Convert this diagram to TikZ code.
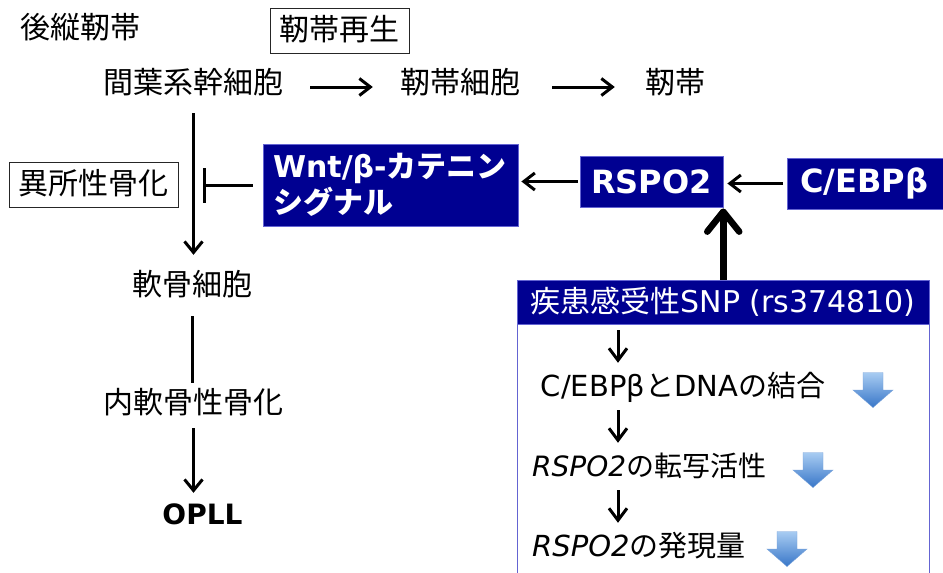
\documentclass[tikz,border=0pt]{standalone}
\usepackage{fontspec}
\setmainfont{DejaVu Sans}
\newfontfamily\jp{Noto Sans CJK JP}
\newcommand{\jtxt}[1]{{\jp #1}}
\usetikzlibrary{arrows.meta}
\definecolor{navy}{RGB}{0,0,145}
\definecolor{bord}{RGB}{100,100,210}
\definecolor{blt}{RGB}{168,204,242}
\definecolor{bdk}{RGB}{56,118,200}
\begin{document}
\begin{tikzpicture}[x=1pt,y=-1pt,
  lbl/.style={inner sep=0pt, text height=25pt, text depth=5pt, font=\fontsize{30}{36}\selectfont},
  steplbl/.style={inner sep=0pt, text height=23.5pt, text depth=4.5pt, font=\fontsize{28}{34}\selectfont},
  framed/.style={draw=black!85, line width=0.8pt, inner sep=0pt},
  navybox/.style={fill=navy, draw=bord, line width=0.8pt, text=white, inner sep=0pt},
  arr/.style={line width=3pt, -{Straight Barb[length=11pt,width=17pt]}},
  varr/.style={line width=3pt, -{Straight Barb[length=11pt,width=18pt]}},
  sarr/.style={line width=3pt, -{Straight Barb[length=12pt,width=18pt]}},
  plainline/.style={line width=3pt},
  thickarr/.style={line width=6.5pt, -{Straight Barb[length=20pt,width=32pt,round]}},
  inh/.style={line width=3pt, -{Bar[width=35pt]}},
  bluearr/.pic={\shadedraw[top color=blt, bottom color=bdk, draw=bdk!70, line width=0.4pt]
     (-10,-17.5) -- (10,-17.5) -- (10,0) -- (20,0) -- (0,17.5) -- (-20,0) -- (-10,0) -- cycle;}
]
\useasboundingbox (0,0) rectangle (943,573);
\begin{scope}
\clip (0,0) rectangle (943,573);

% left column
\node[lbl] (plj) at (80,28) {\jtxt{後縦靭帯}};
\node[lbl, framed, minimum width=139pt, minimum height=45pt] (regen) at (339.5,30.5) {\jtxt{靭帯再生}};
\node[lbl] (mes) at (193.5,83) {\jtxt{間葉系幹細胞}};
\node[lbl] (ligc) at (460,83) {\jtxt{靭帯細胞}};
\node[lbl] (lig) at (675,83) {\jtxt{靭帯}};
\node[lbl, framed, minimum width=169pt, minimum height=45pt] (ect) at (93.5,184.5) {\jtxt{異所性骨化}};
\node[lbl] (chon) at (192.5,285) {\jtxt{軟骨細胞}};
\node[lbl] (endo) at (193.5,403) {\jtxt{内軟骨性骨化}};
\node[steplbl, font=\fontsize{28}{34}\selectfont\bfseries] (opll) at (202.5,515) {OPLL};

% navy boxes
\node[navybox, minimum width=255pt, minimum height=82pt, text width=235pt, align=left,
      font=\fontsize{30}{36}\selectfont\bfseries] (wnt) at (390.5,185)
      {Wnt/β-\jtxt{カテニン}\\\jtxt{シグナル}};
\node[navybox, minimum width=143pt, minimum height=51pt, font=\fontsize{32}{38}\selectfont\bfseries] (rspo) at (651.5,181.5) {RSPO2};
\node[navybox, anchor=west, minimum height=51pt, text width=150pt, inner xsep=13pt, align=left,
      font=\fontsize{32}{38}\selectfont\bfseries] (cebp) at (787,183.5) {C/EBPβ};

% SNP panel
\draw[draw=bord, line width=1pt, fill=white] (517,280) rectangle (929.5,590);
\node[navybox, minimum width=412.5pt, minimum height=44pt, font=\fontsize{30}{36}\selectfont] (snp) at (723.25,302) {\jtxt{疾患感受性}SNP (rs374810)};
\node[steplbl, font=\fontsize{29}{34}\selectfont] (s1) at (683,387) {C/EBPβ\jtxt{と}DNA\jtxt{の結合}};
\node[steplbl, anchor=west] (s2) at (532,467) {\textit{RSPO2}\jtxt{の転写活性}};
\node[steplbl, anchor=west, font=\fontsize{29}{34}\selectfont] (s3) at (532,547) {\textit{RSPO2}\jtxt{の発現量}};
\coordinate (ax) at (618,0);
\pic at (873,390) {bluearr};
\pic at (813,470) {bluearr};
\pic at (787,549) {bluearr};

% connectors
\draw[arr, shorten <=26.5pt, shorten >=27pt] ([yshift=-4pt]mes.east) -- ([yshift=-4pt]ligc.west);
\draw[arr, shorten <=32pt, shorten >=30pt] ([yshift=-4pt]ligc.east) -- ([yshift=-4pt]lig.west);
\draw[varr, shorten <=15pt, shorten >=15pt] (mes.south) -- (mes.south |- chon.north);
\draw[plainline, shorten <=16pt, shorten >=5pt] (chon.south) -- (chon.south |- endo.north);
\draw[varr, shorten <=10pt, shorten >=8pt] (endo.south) -- (endo.south |- opll.north);
\coordinate (tb) at (203,185);
\draw[inh] ([xshift=-10pt]wnt.west) -- (tb);
\draw[arr, shorten <=2pt, shorten >=3pt] (rspo.west) -- (rspo.west -| wnt.east);
\draw[arr, shorten <=4pt, shorten >=4pt] (cebp.west) -- (cebp.west -| rspo.east);
\draw[thickarr, shorten >=1pt] (snp.north) -- (snp.north |- rspo.south);
\draw[sarr, shorten <=6pt, shorten >=10pt] (snp.south -| ax) -- (s1.north -| ax);
\draw[sarr, shorten <=9pt, shorten >=10pt] (s1.south -| ax) -- (s2.north -| ax);
\draw[sarr, shorten <=9pt, shorten >=10pt] (s2.south -| ax) -- (s3.north -| ax);
\end{scope}
\end{tikzpicture}
\end{document}
